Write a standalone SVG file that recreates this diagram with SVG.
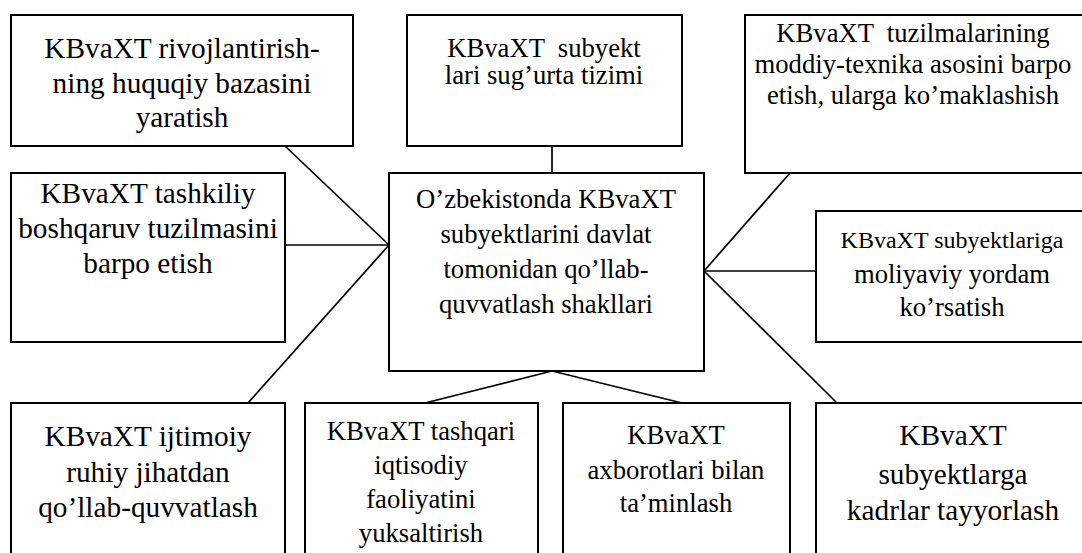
<svg xmlns="http://www.w3.org/2000/svg" width="1082" height="553" viewBox="0 0 1082 553">
<style>
.box{fill:#fff;stroke:#000;stroke-width:2}
.ln{stroke:#000;stroke-width:1.7;fill:none}
.t{fill:#000;text-anchor:middle;white-space:pre}
.f22{font-size:29.3px}
.f20{font-size:26.67px}
.f18{font-size:24px}
</style>
<rect width="1082" height="553" fill="#fff"/>
<g id="connectors">
<line class="ln" x1="285" y1="146" x2="389" y2="245"/>
<line class="ln" x1="285" y1="245" x2="389" y2="245"/>
<line class="ln" x1="248" y1="403" x2="389" y2="245"/>
<line class="ln" x1="552" y1="146" x2="552" y2="173"/>
<line class="ln" x1="790" y1="173" x2="704" y2="271"/>
<line class="ln" x1="816" y1="271" x2="704" y2="271"/>
<line class="ln" x1="837" y1="403" x2="704" y2="271"/>
<line class="ln" x1="425" y1="403" x2="552" y2="371"/>
<line class="ln" x1="682" y1="403" x2="552" y2="371"/>
</g>
<g font-family="'Liberation Serif', 'DejaVu Serif', serif">
<g id="n1">
<rect class="box" x="11" y="15" width="342" height="131"/>
<text class="t f22" x="182" y="58">KBvaXT rivojlantirish-</text>
<text class="t f22" x="182" y="93">ning huquqiy bazasini</text>
<text class="t f22" x="182" y="127">yaratish</text>
</g>
<g id="n2">
<rect class="box" x="407" y="15" width="275" height="131"/>
<text class="t f20" x="544" y="57">KBvaXT  subyekt</text>
<text class="t f20" x="544" y="84">lari sug’urta tizimi</text>
</g>
<g id="n3">
<rect class="box" x="745" y="15" width="345" height="158"/>
<text class="t f20" x="913" y="42">KBvaXT  tuzilmalarining</text>
<text class="t f20" x="913" y="73">moddiy-texnika asosini barpo</text>
<text class="t f20" x="913" y="104">etish, ularga ko’maklashish</text>
</g>
<g id="n4">
<rect class="box" x="11" y="173" width="274" height="169"/>
<text class="t f22" x="148" y="203">KBvaXT tashkiliy</text>
<text class="t f22" x="148" y="238">boshqaruv tuzilmasini</text>
<text class="t f22" x="148" y="273">barpo etish</text>
</g>
<g id="center">
<rect class="box" x="389" y="173" width="315" height="198"/>
<text class="t f20" x="546" y="208">O’zbekistonda KBvaXT</text>
<text class="t f20" x="546" y="243">subyektlarini davlat</text>
<text class="t f20" x="546" y="278">tomonidan qo’llab-</text>
<text class="t f20" x="546" y="313">quvvatlash shakllari</text>
</g>
<g id="n5">
<rect class="box" x="816" y="211" width="275" height="131"/>
<text class="t f18" x="952" y="248">KBvaXT subyektlariga</text>
<text class="t f20" x="952" y="283">moliyaviy yordam</text>
<text class="t f20" x="952" y="316">ko’rsatish</text>
</g>
<g id="n7">
<rect class="box" x="11" y="403" width="274" height="160"/>
<text class="t f22" x="148" y="446">KBvaXT ijtimoiy</text>
<text class="t f22" x="148" y="482">ruhiy jihatdan</text>
<text class="t f22" x="148" y="517">qo’llab-quvvatlash</text>
</g>
<g id="n8">
<rect class="box" x="305" y="403" width="233" height="160"/>
<text class="t f20" x="421" y="440">KBvaXT tashqari</text>
<text class="t f20" x="421" y="474">iqtisodiy</text>
<text class="t f20" x="421" y="508">faoliyatini</text>
<text class="t f20" x="421" y="542">yuksaltirish</text>
</g>
<g id="n9">
<rect class="box" x="563" y="403" width="227" height="160"/>
<text class="t f20" x="676" y="444">KBvaXT</text>
<text class="t f20" x="676" y="479">axborotlari bilan</text>
<text class="t f20" x="676" y="512">ta’minlash</text>
</g>
<g id="n10">
<rect class="box" x="816" y="403" width="280" height="160"/>
<text class="t f22" x="953" y="445">KBvaXT</text>
<text class="t f22" x="953" y="484">subyektlarga</text>
<text class="t f22" x="953" y="520">kadrlar tayyorlash</text>
</g>
</g>
</svg>
